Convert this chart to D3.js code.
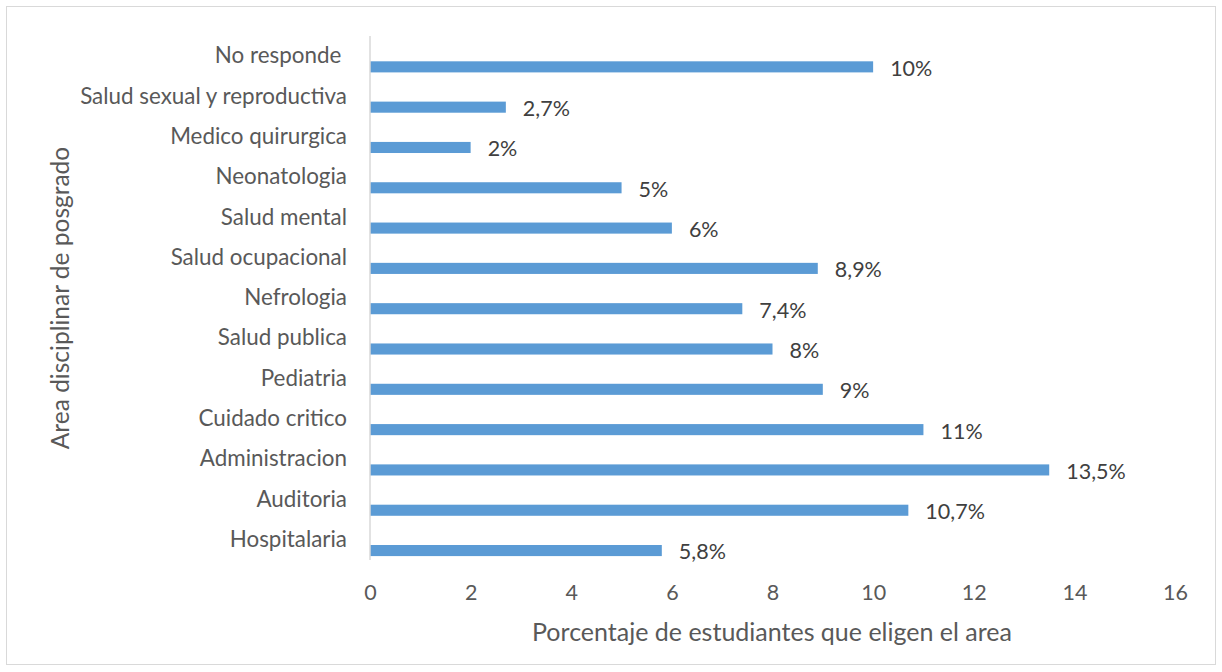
<!DOCTYPE html>
<html><head><meta charset="utf-8">
<script src="https://cdn.jsdelivr.net/npm/d3@7"></script>
<style>body{margin:0;background:#fff;} svg{display:block;font-family:Lato,"Open Sans",sans-serif;}</style>
</head><body>
<svg id="c" width="1222" height="672"></svg>
<script>
const categories = ["No responde ", "Salud sexual y reproductiva", "Medico quirurgica", "Neonatologia", "Salud mental", "Salud ocupacional", "Nefrologia", "Salud publica", "Pediatria", "Cuidado critico", "Administracion", "Auditoria", "Hospitalaria"];
const values = [10, 2.7, 2, 5, 6, 8.9, 7.4, 8, 9, 11, 13.5, 10.7, 5.8];
const valueLabels = ["10%", "2,7%", "2%", "5%", "6%", "8,9%", "7,4%", "8%", "9%", "11%", "13,5%", "10,7%", "5,8%"];
const xTicks = [0, 2, 4, 6, 8, 10, 12, 14, 16];
const xTitle = "Porcentaje de estudiantes que eligen el area";
const yTitle = "Area disciplinar de posgrado";

(function () {
const svg = d3.select("#c");
svg.append("rect").attr("x", 6.5).attr("y", 6.5).attr("width", 1209).attr("height", 658)
  .attr("fill", "#fff").attr("stroke", "#d9d9d9").attr("stroke-width", 1);

const pLeft = 370, pRight = 1175, pTop = 36, pBottom = 560;
const x = d3.scaleLinear().domain([0, 16]).range([pLeft, pRight]);
const y = d3.scaleBand().domain(categories).range([pTop, pBottom]).padding(0);
const bw = y.bandwidth();

svg.selectAll("rect.bar").data(categories).join("rect").attr("class", "bar")
  .attr("x", x(0)).attr("y", d => y(d) + bw * 0.628)
  .attr("width", (d, i) => x(values[i]) - x(0)).attr("height", bw * 0.275)
  .attr("fill", "#5b9bd5");

svg.append("line").attr("x1", pLeft).attr("x2", pLeft).attr("y1", pTop).attr("y2", pBottom)
  .attr("stroke", "#d9d9d9").attr("stroke-width", 1.5);

const yAxis = d3.axisLeft(y).tickSize(0).tickPadding(23);
const gy = svg.append("g").attr("transform", `translate(${pLeft},0)`).call(yAxis);
gy.select(".domain").remove();
gy.selectAll("text").attr("font-size", 22.4).attr("fill", "#595959")
  .attr("font-family", "Lato, 'Open Sans', sans-serif").style("white-space", "pre");

const xAxis = d3.axisBottom(x).tickValues(xTicks).tickSize(0).tickPadding(0).tickFormat(d3.format("d"));
const gx = svg.append("g").attr("transform", `translate(0,${pBottom + 32})`).call(xAxis);
gx.select(".domain").remove();
gx.selectAll("text").attr("font-size", 21.5).attr("fill", "#595959").attr("dy", "0.35em")
  .attr("font-family", "Lato, 'Open Sans', sans-serif");

svg.selectAll("text.val").data(categories).join("text").attr("class", "val")
  .attr("x", (d, i) => x(values[i]) + 17).attr("y", d => y(d) + bw * 0.8)
  .attr("dy", "0.35em").attr("font-size", 21.5).attr("fill", "#404040")
  .text((d, i) => valueLabels[i]);

svg.append("text").attr("x", 772).attr("y", 632).attr("dy", "0.35em")
  .attr("text-anchor", "middle").attr("font-size", 25).attr("fill", "#595959").text(xTitle);
svg.append("text").attr("transform", `translate(60,${(pTop + pBottom) / 2}) rotate(-90)`)
  .attr("dy", "0.35em").attr("text-anchor", "middle").attr("font-size", 24.5).attr("fill", "#595959").text(yTitle);
})();
</script>
</body></html>
